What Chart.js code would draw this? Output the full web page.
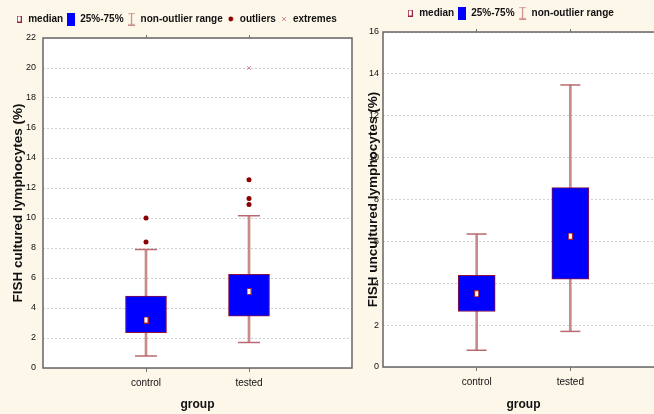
<!DOCTYPE html>
<html>
<head>
<meta charset="utf-8">
<script src="https://cdn.jsdelivr.net/npm/chart.js@4/dist/chart.umd.min.js"></script>
<style>
  html, body { margin: 0; padding: 0; overflow: hidden; background: #fdf7ea; }
  body { width: 654px; height: 414px; position: relative; }
  #wrapL { position: absolute; left: 0; top: 0; width: 356px; height: 414px; }
  #wrapR { position: absolute; left: 356px; top: 0; width: 312px; height: 414px; }
</style>
</head>
<body>
<div id="wrapL"><canvas id="chartL"></canvas></div>
<div id="wrapR"><canvas id="chartR"></canvas></div>
<script>
// categories and values
const groups = ['control', 'tested']

// left panel: FISH cultured lymphocytes (%)
const culturedMin = [0.8, 1.7]
const culturedQ1 = [2.35, 3.45]
const culturedMedian = [3.2, 5.1]
const culturedQ3 = [4.8, 6.25]
const culturedMax = [7.9, 10.15]
const culturedOutliers = [[8.4, 10.0], [10.9, 11.3, 12.55]]
const culturedExtremes = [[], [20.0]]
const culturedTicks = [0, 2, 4, 6, 8, 10, 12, 14, 16, 18, 20, 22]

// right panel: FISH uncultured lymphocytes (%)
const unculturedMin = [0.8, 1.7]
const unculturedQ1 = [2.65, 4.2]
const unculturedMedian = [3.5, 6.25]
const unculturedQ3 = [4.38, 8.57]
const unculturedMax = [6.35, 13.47]
const unculturedTicks = [0, 2, 4, 6, 8, 10, 12, 14, 16]

const FONT = "'Liberation Sans', Arial, sans-serif"
Chart.defaults.font.family = FONT
Chart.defaults.color = '#111'

const boxBlue = '#0000ff'
const boxEdge = '#8a1040'
const whiskerColor = '#c98a8a'
const outlierColor = '#8b0000'
const extremeColor = '#d08a9a'

// little symbols (legend and median marker)
function symbol(w, h, draw) {
  const c = document.createElement('canvas')
  c.width = w; c.height = h
  draw(c.getContext('2d'))
  return c
}
const symMedian = symbol(5, 7, g => { g.fillStyle = '#a02040'; g.fillRect(0, 0, 5, 7); g.fillStyle = '#fff'; g.fillRect(1, 1, 3, 5) })
const symBox = symbol(8, 13, g => { g.fillStyle = boxBlue; g.fillRect(0, 0, 8, 13) })
const symRange = symbol(9, 13, g => {
  g.strokeStyle = whiskerColor; g.lineWidth = 1.2
  g.beginPath(); g.moveTo(1, 0.6); g.lineTo(8, 0.6); g.moveTo(4.5, 0.6); g.lineTo(4.5, 12.4); g.moveTo(1, 12.4); g.lineTo(8, 12.4); g.stroke()
})
const symOutlier = symbol(6, 6, g => { g.fillStyle = outlierColor; g.beginPath(); g.arc(3, 3, 2.4, 0, Math.PI * 2); g.fill() })
const symExtreme = symbol(6, 6, g => {
  g.strokeStyle = extremeColor; g.lineWidth = 1
  g.beginPath(); g.moveTo(1, 1); g.lineTo(5, 5); g.moveTo(5, 1); g.lineTo(1, 5); g.stroke()
})

function legendItems(withPoints) {
  const items = [
    { text: 'median', pointStyle: symMedian },
    { text: '25%-75%', pointStyle: symBox },
    { text: 'non-outlier range', pointStyle: symRange }
  ]
  if (withPoints) {
    items.push({ text: 'outliers', pointStyle: symOutlier })
    items.push({ text: 'extremes', pointStyle: symExtreme })
  }
  return items.map(it => Object.assign({ fillStyle: '#000', strokeStyle: '#000', lineWidth: 0, hidden: false, fontColor: '#111' }, it))
}

// white plot area, full frame
const framePlugin = {
  id: 'frame',
  beforeDraw(chart) {
    const a = chart.chartArea, g = chart.ctx
    g.save(); g.fillStyle = '#fff'; g.fillRect(a.left, a.top, a.right - a.left, a.bottom - a.top); g.restore()
  },
  afterDraw(chart) {
    const a = chart.chartArea, g = chart.ctx
    g.save(); g.strokeStyle = '#666'; g.lineWidth = 1.5
    g.strokeRect(a.left, a.top, a.right - a.left, a.bottom - a.top); g.restore()
  }
}

// fixed legend height so plot tops line up with the picture
function legendHeight(h) {
  return {
    id: 'legendHeight',
    beforeInit(chart) {
      const orig = chart.legend.fit
      chart.legend.fit = function () { orig.call(this); this.height = h }
    }
  }
}

function buildDatasets(mins, q1, med, q3, maxs, outs, exts, boxW, capR) {
  const pos = groups.map((g, i) => i + 1)
  const ds = []
  ds.push({ type: 'scatter', data: exts ? exts.flatMap((v, i) => v.map(y => ({ x: pos[i], y }))) : [],
    pointStyle: 'crossRot', radius: 2.5, borderColor: extremeColor, borderWidth: 1, backgroundColor: extremeColor })
  ds.push({ type: 'scatter', data: outs ? outs.flatMap((v, i) => v.map(y => ({ x: pos[i], y }))) : [],
    pointStyle: 'circle', radius: 2.5, borderWidth: 0, backgroundColor: outlierColor })
  ds.push({ type: 'scatter', data: med.map((y, i) => ({ x: pos[i], y })),
    pointStyle: symMedian, radius: 3 })
  ds.push({ type: 'bar', data: q1.map((v, i) => ({ x: pos[i], y: [v, q3[i]] })),
    barThickness: boxW, grouped: false, backgroundColor: boxBlue, borderColor: boxEdge, borderWidth: 1, borderSkipped: false })
  ds.push({ type: 'scatter', data: mins.flatMap((v, i) => [{ x: pos[i], y: v }, { x: pos[i], y: maxs[i] }]),
    pointStyle: 'line', radius: capR, borderWidth: 1.5, borderColor: '#b86a70' })
  ds.push({ type: 'bar', data: mins.map((v, i) => ({ x: pos[i], y: [v, maxs[i]] })),
    barThickness: 2, grouped: false, backgroundColor: whiskerColor, borderWidth: 0 })
  return ds
}

function makeChart(id, cfg) {
  const catTicks = s => { s.ticks = groups.map((g, i) => ({ value: i + 1 })) }
  return new Chart(document.getElementById(id), {
    data: { datasets: cfg.datasets },
    options: {
      responsive: true,
      maintainAspectRatio: false,
      animation: false,
      events: [],
      layout: { autoPadding: false, padding: { left: 0, right: cfg.padRight, top: cfg.padTop, bottom: 0 } },
      plugins: {
        legend: {
          display: true,
          labels: {
            usePointStyle: true,
            pointStyleWidth: 8,
            generateLabels: () => legendItems(cfg.fullLegend),
            font: { size: 10, weight: 'bold' },
            padding: 4
          }
        },
        tooltip: { enabled: false }
      },
      scales: {
        x: {
          type: 'linear',
          min: 0,
          max: cfg.xMax,
          offset: false,
          afterBuildTicks: catTicks,
          afterFit: s => { s.height = cfg.xHeight },
          ticks: { callback: v => groups[v - 1] || '', font: { size: 10 }, color: '#111', padding: 5, maxRotation: 0 },
          grid: { offset: false, drawOnChartArea: false, drawTicks: true, tickLength: 4, tickColor: '#777' },
          border: { display: false },
          title: { display: true, text: 'group', font: { size: 12, weight: 'bold' }, color: '#111', padding: { top: 0, bottom: 2 } }
        },
        x2: {
          type: 'linear',
          position: 'top',
          min: 0,
          max: cfg.xMax,
          offset: false,
          afterBuildTicks: catTicks,
          afterFit: s => { s.height = 0 },
          ticks: { display: false },
          grid: { offset: false, drawOnChartArea: false, drawTicks: true, tickLength: 3, tickColor: '#777' },
          border: { display: false }
        },
        y: {
          type: 'linear',
          min: cfg.yTicks[0],
          max: cfg.yTicks[cfg.yTicks.length - 1],
          afterBuildTicks: s => { s.ticks = cfg.yTicks.map(v => ({ value: v })) },
          afterFit: s => { s.width = cfg.yWidth },
          ticks: { font: { size: 9 }, color: '#111', padding: cfg.tickPad },
          grid: { color: '#d0d0d0', lineWidth: 1, drawTicks: false },
          border: { display: false, dash: [2, 2] },
          title: { display: true, text: cfg.yTitle, font: { size: 13.5, weight: 'bold' }, color: '#111', padding: { top: cfg.titlePad, bottom: 0 } }
        }
      }
    },
    plugins: [framePlugin, legendHeight(cfg.legendH)]
  })
}

makeChart('chartL', {
  datasets: buildDatasets(culturedMin, culturedQ1, culturedMedian, culturedQ3, culturedMax, culturedOutliers, culturedExtremes, 41, 11),
  yTicks: culturedTicks,
  yTitle: 'FISH cultured lymphocytes (%)',
  fullLegend: true,
  xMax: 3, padRight: 4, padTop: 10, xHeight: 46, yWidth: 43, legendH: 28, tickPad: 7, titlePad: 10
})

makeChart('chartR', {
  datasets: buildDatasets(unculturedMin, unculturedQ1, unculturedMedian, unculturedQ3, unculturedMax, null, null, 37, 10),
  yTicks: unculturedTicks,
  yTitle: 'FISH uncultured lymphocytes (%)',
  fullLegend: false,
  xMax: 3, padRight: 4, padTop: 4, xHeight: 47, yWidth: 27, legendH: 28, tickPad: 4, titlePad: 9
})
</script>
</body>
</html>
